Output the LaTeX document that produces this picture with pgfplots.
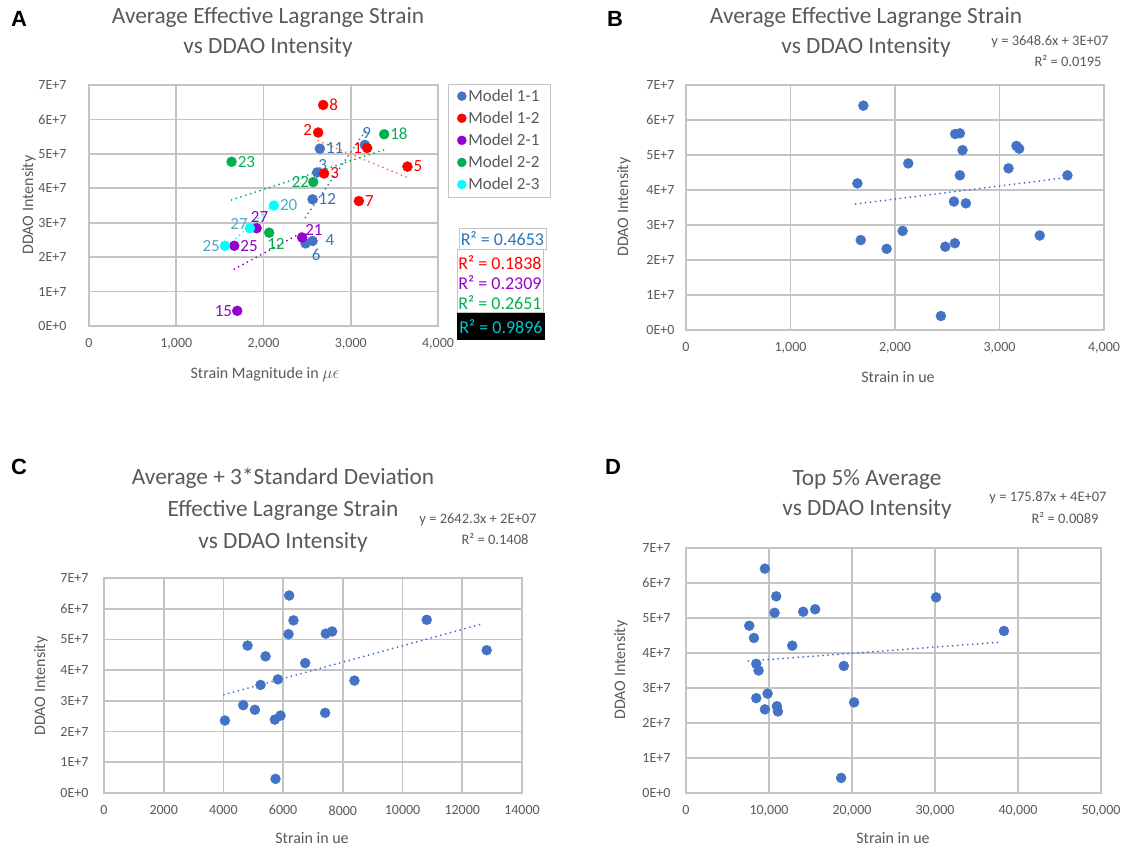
\documentclass[border=0pt]{standalone}
\usepackage{fontspec}
\setmainfont{Carlito}
\newfontfamily\arial{Liberation Sans}
\usepackage{pgfplots}
\pgfplotsset{compat=1.18}

\definecolor{tick}{RGB}{89,89,89}
\definecolor{gridc}{RGB}{196,196,196}
\definecolor{mblue}{RGB}{68,114,196}
\definecolor{lblue}{RGB}{46,117,182}
\definecolor{mred}{RGB}{255,0,0}
\definecolor{mpurple}{RGB}{150,0,205}
\definecolor{mgreen}{RGB}{0,176,80}
\definecolor{mcyan}{RGB}{0,255,255}
\definecolor{lcyan}{RGB}{75,172,198}
\definecolor{morange}{RGB}{237,125,49}
\definecolor{rcyan}{RGB}{0,200,210}

\tikzset{lab/.style={font=\fontsize{17}{19}\selectfont, inner sep=0pt}}
\pgfplotsset{
  panel/.style={
    scale only axis, anchor=south west,
    xmin=0, ymin=0, ymax=70000000,
    ytick={0,10000000,20000000,30000000,40000000,50000000,60000000,70000000},
    yticklabels={0E+0,1E+7,2E+7,3E+7,4E+7,5E+7,6E+7,7E+7},
    scaled ticks=false,
    grid=major, major grid style={gridc, line width=1.6pt},
    axis line style={gridc, line width=1.6pt},
    major tick length=0pt,
    tick label style={font=\fontsize{14}{16}\selectfont, text=tick},
    /pgf/number format/assume math mode=true,
    xticklabel style={yshift=-9pt},
    clip=false,
  },
  dot/.style={only marks, mark=*, mark size=5pt, mark options={draw=none}},
  trend/.style={line width=2pt, dash pattern=on 0pt off 5pt, line cap=round, forget plot},
}

\begin{document}
\begin{tikzpicture}
\useasboundingbox (0,0) rectangle (1126pt,-850pt);
\tikzset{ttl/.style={font=\fontsize{23.3}{30}\selectfont, text=tick, align=center},
  ttlc/.style={font=\fontsize{23.3}{32}\selectfont, text=tick, align=center},
  eq/.style={font=\fontsize{14.5}{16}\selectfont, text=tick},
  rsq/.style={font=\fontsize{18}{20}\selectfont},
  axl/.style={font=\fontsize{16}{18}\selectfont, text=tick},
  letter/.style={font=\arial\bfseries\fontsize{22}{24}\selectfont}}

% ---------------- A ----------------
\begin{axis}[panel, at={(89pt,-326pt)}, width=349pt, height=241pt,
  xmax=4000, xtick={0,1000,2000,3000,4000},
  yticklabel style={xshift=-19pt},
  legend style={at={(1.029,1.005)}, anchor=north west, draw=gridc,
    font=\fontsize{17}{19}\selectfont, text=tick, row sep=4.8pt,
    inner xsep=9pt, inner ysep=3.5pt},
  legend image code/.code={\draw[#1, mark size=4.5pt] plot coordinates {(0cm,0cm)};},
  legend cell align=left]
\addplot[trend, mblue] coordinates {(2480,31500000) (3170,56700000)};
\addplot[trend, morange] coordinates {(2627,53800000) (3650,43100000)};
\addplot[trend, mgreen] coordinates {(1634,36600000) (3383,51200000)};
\addplot[trend, mpurple] coordinates {(1665,16500000) (2443,27200000)};
\addplot[trend, mcyan] coordinates {(1558,22500000) (2119,35500000)};
\addplot[dot, mblue] coordinates {(2646,51500000) (3161,52600000) (2615,44600000) (2562,36800000) (2562,24700000) (2482,24000000)};
\addlegendentry{Model 1-1}
\addplot[dot, mred] coordinates {(2684,64200000) (2627,56200000) (3188,51700000) (3650,46300000) (2695,44300000) (3093,36300000)};
\addlegendentry{Model 1-2}
\addplot[dot, mpurple] coordinates {(2443,25700000) (1921,28400000) (1665,23300000) (1699,4400000)};
\addlegendentry{Model 2-1}
\addplot[dot, mgreen] coordinates {(1634,47700000) (3383,55700000) (2570,41800000) (2065,27100000)};
\addlegendentry{Model 2-2}
\addplot[dot, mcyan] coordinates {(2119,35000000) (1844,28400000) (1558,23300000)};
\addlegendentry{Model 2-3}
% point labels
\node[lab, text=mred, anchor=west, xshift=6pt] at (axis cs:2684,64200000) {8};
\node[lab, text=mred, anchor=east, xshift=-6pt, yshift=3pt] at (axis cs:2627,56200000) {2};
\node[lab, text=lblue, anchor=west, xshift=6pt, yshift=1pt] at (axis cs:2646,51500000) {11};
\node[lab, text=lblue, anchor=south, yshift=6pt, xshift=2pt] at (axis cs:3161,52600000) {9};
\node[lab, text=mred, anchor=east, xshift=-5pt] at (axis cs:3188,51700000) {1};
\node[lab, text=mgreen, anchor=west, xshift=6pt] at (axis cs:3383,55700000) {18};
\node[lab, text=mred, anchor=west, xshift=6pt] at (axis cs:3650,46300000) {5};
\node[lab, text=lblue, anchor=south west, xshift=1pt, yshift=2pt] at (axis cs:2615,44600000) {3};
\node[lab, text=mred, anchor=west, xshift=6pt] at (axis cs:2695,44300000) {3};
\node[lab, text=mgreen, anchor=east, xshift=-4pt] at (axis cs:2570,41800000) {22};
\node[lab, text=lblue, anchor=west, xshift=6pt] at (axis cs:2562,36800000) {12};
\node[lab, text=mred, anchor=west, xshift=6pt] at (axis cs:3093,36300000) {7};
\node[lab, text=lcyan, anchor=west, xshift=6pt] at (axis cs:2119,35000000) {20};
\node[lab, text=mpurple, anchor=south west, xshift=3pt, yshift=2pt] at (axis cs:2443,25700000) {21};
\node[lab, text=lblue, anchor=west, xshift=13pt, yshift=1pt] at (axis cs:2562,24700000) {4};
\node[lab, text=lblue, anchor=north west, xshift=6pt, yshift=-5pt] at (axis cs:2482,24000000) {6};
\node[lab, text=mgreen, anchor=north west, xshift=-2pt, yshift=-6pt] at (axis cs:2065,27100000) {12};
\node[lab, text=mgreen, anchor=west, xshift=6pt] at (axis cs:1634,47700000) {23};
\node[lab, text=lcyan, anchor=east, xshift=-2pt, yshift=4pt] at (axis cs:1844,28400000) {27};
\node[lab, text=mpurple, anchor=south, yshift=6pt, xshift=3pt] at (axis cs:1921,28400000) {27};
\node[lab, text=lcyan, anchor=east, xshift=-5pt] at (axis cs:1558,23300000) {25};
\node[lab, text=mpurple, anchor=west, xshift=6pt] at (axis cs:1665,23300000) {25};
\node[lab, text=mpurple, anchor=east, xshift=-5pt] at (axis cs:1699,4400000) {15};
\end{axis}

% ---------------- B ----------------
\begin{axis}[panel, at={(686pt,-330pt)}, width=418pt, height=245pt,
  xmax=4000, xtick={0,1000,2000,3000,4000},
  yticklabel style={xshift=-8pt}]
\addplot[trend, mblue] coordinates {(1624,36000000) (3656,43600000)};
\addplot[dot, mblue] coordinates {
 (1697,64100000) (2576,56000000) (2621,56200000) (2646,51400000) (3162,52600000)
 (3188,51800000) (2127,47600000) (3086,46200000) (2621,44200000) (3650,44200000)
 (1640,41900000) (2564,36700000) (2678,36200000) (2073,28300000) (3385,27000000)
 (1672,25700000) (1920,23200000) (2481,23800000) (2573,24800000) (2439,4000000)};
\end{axis}

% ---------------- C ----------------
\begin{axis}[panel, at={(104pt,-793pt)}, width=418pt, height=215pt,
  xmax=14000, xtick={0,2000,4000,6000,8000,10000,12000,14000},
  xticklabel style={/pgf/number format/1000 sep={}},
  yticklabel style={xshift=-12pt}]
\addplot[trend, mblue] coordinates {(4016,32000000) (12727,55200000)};
\addplot[dot, mblue] coordinates {
 (6202,64300000) (6347,56200000) (6180,51700000) (7429,51900000) (7641,52600000)
 (10809,56400000) (4808,48000000) (5410,44500000) (6738,42300000) (12817,46500000)
 (5823,37000000) (5243,35200000) (8388,36600000) (4663,28600000) (5053,27100000)
 (4049,23600000) (5722,23900000) (5912,25200000) (7407,26100000) (5745,4600000)};
\end{axis}

% ---------------- D ----------------
\begin{axis}[panel, at={(686pt,-793pt)}, width=415pt, height=245pt,
  xmax=50000, xtick={0,10000,20000,30000,40000,50000},
  yticklabel style={xshift=-12pt}]
\addplot[trend, mblue] coordinates {(7500,37700000) (37906,43100000)};
\addplot[dot, mblue] coordinates {
 (9507,64100000) (10870,56200000) (30124,55900000) (10670,51500000) (14120,51800000)
 (15564,52500000) (7621,47800000) (8183,44300000) (38307,46300000) (12796,42100000)
 (8464,36900000) (8744,35000000) (19013,36300000) (9827,28400000) (8464,27100000)
 (9507,23900000) (10950,24800000) (11071,23300000) (20257,25900000) (18692,4300000)};
\end{axis}

% ---------------- texts ----------------
\node[letter] at (19pt,-19pt) {A};
\node[letter] at (615pt,-19pt) {B};
\node[letter] at (19pt,-467pt) {C};
\node[letter] at (613pt,-467pt) {D};

\node[ttl] at (268pt,-32.5pt) {Average Effective Lagrange Strain\\vs DDAO Intensity};
\node[ttl] at (866pt,-32.5pt) {Average Effective Lagrange Strain\\vs DDAO Intensity};
\node[ttlc] at (283pt,-510pt) {Average + 3*Standard Deviation\\Effective Lagrange Strain\\vs DDAO Intensity};
\node[ttl] at (867pt,-494.5pt) {Top 5\% Average\\vs DDAO Intensity};

\node[eq] at (1050pt,-42pt) {y = 3648.6x + 3E+07};
\node[eq] at (1068pt,-61pt) {R² = 0.0195};
\node[eq] at (478pt,-520pt) {y = 2642.3x + 2E+07};
\node[eq] at (495pt,-539pt) {R² = 0.1408};
\node[eq] at (1048pt,-498pt) {y = 175.87x + 4E+07};
\node[eq] at (1065pt,-518pt) {R² = 0.0089};

\node[axl, rotate=90] at (29pt,-205pt) {DDAO Intensity};
\node[axl, rotate=90] at (624pt,-207pt) {DDAO Intensity};
\node[axl, rotate=90] at (41pt,-686pt) {DDAO Intensity};
\node[axl, rotate=90] at (621pt,-670pt) {DDAO Intensity};
\node[axl] at (265pt,-375pt) {Strain Magnitude in $\mu\epsilon$};
\node[axl] at (898pt,-377pt) {Strain in ue};
\node[axl] at (312pt,-838pt) {Strain in ue};
\node[axl] at (893pt,-838pt) {Strain in ue};

% R-squared boxes of panel A
\draw[gridc, fill=white] (459pt,-228pt) rectangle (546pt,-249pt);
\node[rsq, text=lblue] at (502.5pt,-238.5pt) {R² = 0.4653};
\draw[gridc, fill=white] (457pt,-249pt) rectangle (543pt,-312pt);
\node[rsq, text=mred] at (500pt,-263pt) {R² = 0.1838};
\node[rsq, text=mpurple] at (500pt,-283pt) {R² = 0.2309};
\node[rsq, text=mgreen] at (500pt,-303pt) {R² = 0.2651};
\fill[black] (457pt,-313pt) rectangle (545pt,-340pt);
\node[rsq, text=rcyan] at (501pt,-326.5pt) {R² = 0.9896};
\end{tikzpicture}
\end{document}
